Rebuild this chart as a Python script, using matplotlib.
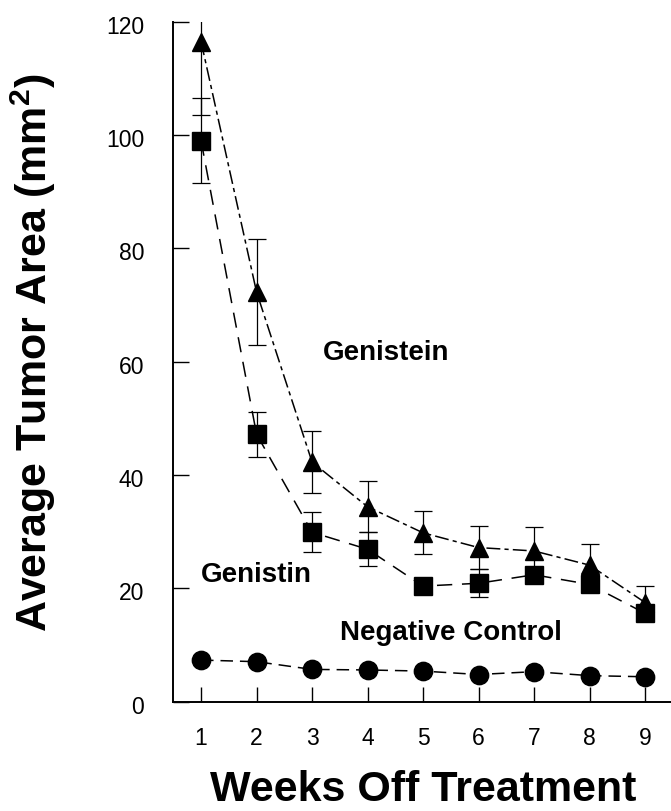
import matplotlib
matplotlib.use("Agg")
import matplotlib.pyplot as plt
import matplotlib.transforms as mtransforms

# ---- data ----
weeks = [1, 2, 3, 4, 5, 6, 7, 8, 9]
genistein = [116.5, 72.3, 42.3, 34.4, 29.8, 27.2, 26.6, 24.1, 17.5]
genistein_err = [13.0, 9.4, 5.4, 4.5, 3.8, 3.8, 4.2, 3.7, 3.0]
genistin = [99.0, 47.2, 29.9, 26.9, 20.4, 20.9, 22.4, 20.7, 15.6]
genistin_err = [7.5, 4.0, 3.5, 3.0, 1.0, 2.5, 1.0, 1.0, 1.0]
control = [7.35, 7.06, 5.7, 5.6, 5.4, 4.8, 5.3, 4.6, 4.4]
xticks = [1, 2, 3, 4, 5, 6, 7, 8, 9]
yticks = [0, 20, 40, 60, 80, 100, 120]
xlabel = "Weeks Off Treatment"
ylabel = "Average Tumor Area (mm$^\\mathbf{2}$)"

plt.rcParams['font.family'] = ['Liberation Sans', 'DejaVu Sans']
plt.rcParams['lines.scale_dashes'] = False
plt.rcParams['mathtext.fontset'] = 'custom'
plt.rcParams['mathtext.rm'] = 'Liberation Sans'
plt.rcParams['mathtext.bf'] = 'Liberation Sans:bold'

W, H = 671, 811
fig = plt.figure(figsize=(W / 100, H / 100), dpi=100)
ax = fig.add_axes([173.3 / W, (H - 701.7) / H, (672.8 - 173.3) / W, 680 / H])

# error bars
ax.errorbar(weeks, genistein, yerr=genistein_err, fmt='none', ecolor='black',
            elinewidth=0.9, capsize=6.5, capthick=0.9, zorder=2)
ax.errorbar(weeks, genistin, yerr=genistin_err, fmt='none', ecolor='black',
            elinewidth=0.9, capsize=6.5, capthick=0.9, zorder=2)

# lines + markers
ax.plot(weeks, genistein, color='black', lw=1.1, linestyle=(0, (10, 3, 3, 3)),
        marker='^', markersize=13.5, markerfacecolor='black',
        markeredgecolor='black', zorder=3, clip_on=False)
ax.plot(weeks, genistin, color='black', lw=1.1, linestyle=(0, (11, 7)),
        marker='s', markersize=13, markerfacecolor='black',
        markeredgecolor='black', zorder=3, clip_on=False)
ax.plot(weeks, control, color='black', lw=1.1, linestyle=(0, (9, 5)),
        marker='o', markersize=13.2, markerfacecolor='black',
        markeredgecolor='black', zorder=3, clip_on=False)

ax.set_xlim(0.5, 9.5)
ax.set_ylim(0, 120)
ax.set_xticks(xticks)
ax.set_yticks(yticks)
ax.set_xticklabels([str(v) for v in xticks])
ax.set_yticklabels([str(v) for v in yticks])

for s in ['top', 'right']:
    ax.spines[s].set_visible(False)
for s in ['left', 'bottom']:
    ax.spines[s].set_linewidth(1.4)

ax.tick_params(axis='x', direction='in', length=11, width=1.0, pad=18,
               labelsize=16.5, colors='black')
ax.tick_params(axis='y', direction='in', length=11.5, width=1.0, pad=21,
               labelsize=16.5, colors='black')

off = mtransforms.ScaledTranslation(0, -3.0 / 100, fig.dpi_scale_trans)
for t in ax.yaxis.get_major_ticks():
    t.label1.set_transform(t.label1.get_transform() + off)

def px(x, y):
    return x / W, 1 - y / H

# annotations
fig.text(*px(323.3, 360), "Genistein", fontsize=20, fontweight='bold',
         ha='left', va='baseline')
fig.text(*px(201, 581.7), "Genistin", fontsize=20, fontweight='bold',
         ha='left', va='baseline')
fig.text(*px(340, 640), "Negative Control", fontsize=20, fontweight='bold',
         ha='left', va='baseline')

# axis labels
fig.text(*px(423, 810), xlabel, fontsize=31, fontweight='bold',
         ha='center', va='bottom')
fig.text(*px(46.7, 631.7), ylabel, fontsize=31, fontweight='bold',
         rotation=90, rotation_mode='anchor', ha='left', va='baseline')

fig.savefig("out.png", dpi=100)
